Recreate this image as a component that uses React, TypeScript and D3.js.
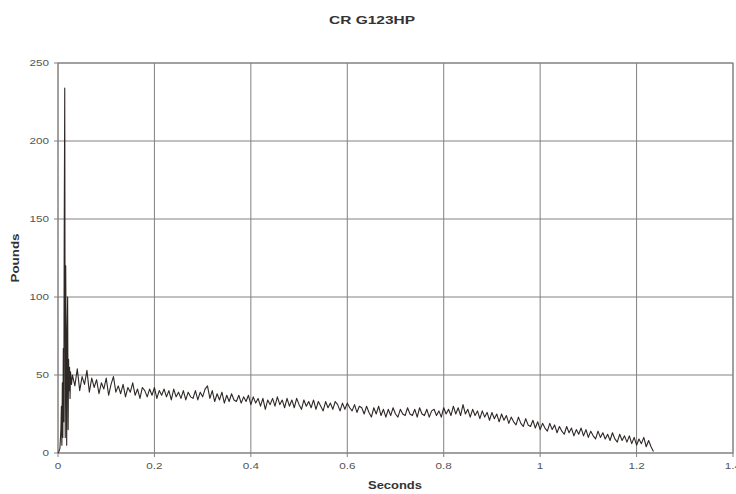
import React from "react";
import * as d3 from "d3";

const title = "CR G123HP";
const xLabel = "Seconds";
const yLabel = "Pounds";
const xTicks = [0, 0.2, 0.4, 0.6, 0.8, 1, 1.2, 1.4];
const yTicks = [0, 50, 100, 150, 200, 250];

// Initial impact segment (seconds, pounds)
const impactTimes = [0, 0.002, 0.004, 0.006, 0.007, 0.008, 0.009, 0.010, 0.011, 0.012, 0.013, 0.014, 0.015, 0.016, 0.017, 0.018, 0.019, 0.020, 0.021, 0.022, 0.023, 0.024, 0.025, 0.026, 0.028];
const impactValues = [0, 1, 3, 15, 30, 5, 45, 10, 67, 20, 150, 234, 10, 120, 60, 5, 80, 100, 15, 60, 40, 55, 35, 52, 44];

// Sustained segment sampled every 0.005 s starting at 0.030 s
const bodyStart = 0.03;
const bodyStep = 0.005;
const bodyValues = [
  50, 43, 54, 40, 49, 44, 53, 39, 48, 42,
  47, 38, 45, 41, 48, 37, 44, 49, 39, 43,
  38, 44, 36, 42, 39, 45, 37, 41, 35, 42,
  40, 36, 41, 37, 42, 35, 40, 37, 41, 36,
  40, 34, 41, 36, 39, 35, 40, 34, 39, 36,
  35, 40, 34, 39, 36, 41, 43, 35, 40, 33,
  38, 34, 39, 32, 37, 33, 38, 34, 33, 37,
  32, 36, 33, 37, 31, 36, 32, 35, 30, 35,
  28, 34, 31, 35, 30, 36, 31, 34, 29, 35,
  30, 34, 29, 35, 31, 28, 34, 30, 33, 29,
  34, 28, 33, 30, 27, 33, 29, 32, 28, 33,
  31, 27, 32, 28, 32, 29, 27, 31, 26, 30,
  29, 25, 30, 26, 23, 29, 25, 30, 24, 28,
  23, 28, 24, 29, 25, 23, 28, 25, 24, 29,
  25, 24, 28, 23, 29, 25, 24, 28, 23, 27,
  28, 24, 27, 23, 29, 25, 28, 24, 30, 25,
  29, 24, 31, 25, 28, 23, 28, 24, 27, 22,
  27, 23, 26, 21, 26, 22, 25, 20, 25, 21,
  24, 19, 23, 20, 18, 23, 19, 17, 22, 18,
  17, 21, 16, 20, 15, 19, 16, 14, 19, 15,
  18, 13, 17, 14, 12, 17, 13, 16, 11, 15,
  12, 16, 11, 15, 10, 14, 11, 9, 14, 10,
  13, 9, 12, 8, 13, 9, 7, 12, 8, 11,
  7, 11, 6, 10, 5, 9, 6, 10, 4, 8,
  4, 1,
];

const W = 736;
const H = 494;
const M = { left: 58, right: 733, top: 63, bottom: 453 };
const FONT = "'Liberation Sans', Arial, sans-serif";
const GRID = "#858080";

function charW(s: string, size: number, stretch: number) {
  let w = 0;
  for (const c of s) w += c === "." ? 0.278 : 0.556;
  return w * size * stretch;
}

export default function App() {
  const x = d3.scaleLinear().domain([0, 1.4]).range([M.left, M.right]);
  const y = d3.scaleLinear().domain([0, 250]).range([M.bottom, M.top]);

  const pts: [number, number][] = impactTimes.map((t, i) => [t, impactValues[i]]);
  bodyValues.forEach((v, i) => pts.push([bodyStart + i * bodyStep, v]));

  const line = d3
    .line<[number, number]>()
    .x((d) => x(d[0]))
    .y((d) => y(d[1]));

  const tickSize = 9;
  const stretch = 1.3;

  return (
    <svg
      width={W}
      height={H}
      style={{ position: "absolute", left: 0, top: 0, background: "#fff" }}
      fontFamily={FONT}
    >
      <rect x={0} y={0} width={W} height={H} fill="#fff" />
      {yTicks.map((t) => (
        <g key={"y" + t}>
          <line x1={M.left - 4} x2={M.right} y1={y(t)} y2={y(t)} stroke={GRID} strokeWidth={1} />
          <text
            x={49}
            y={y(t)}
            dy="0.35em"
            textAnchor="end"
            fontSize={tickSize}
            fill="#555"
            textLength={charW(String(t), tickSize, stretch)}
            lengthAdjust="spacingAndGlyphs"
          >
            {t}
          </text>
        </g>
      ))}
      {xTicks.map((t) => (
        <g key={"x" + t}>
          <line x1={x(t)} x2={x(t)} y1={M.top} y2={M.bottom + 4} stroke={GRID} strokeWidth={1} />
          <text
            x={x(t)}
            y={469}
            textAnchor="middle"
            fontSize={tickSize}
            fill="#555"
            textLength={charW(String(t), tickSize, stretch)}
            lengthAdjust="spacingAndGlyphs"
          >
            {String(t)}
          </text>
        </g>
      ))}
      <rect
        x={M.left}
        y={M.top}
        width={M.right - M.left}
        height={M.bottom - M.top}
        fill="none"
        stroke={GRID}
        strokeWidth={1}
      />
      <path d={line(pts) ?? ""} fill="none" stroke="#2e2826" strokeWidth={1.1} strokeLinejoin="round" />
      <text
        x={372}
        y={24}
        textAnchor="middle"
        fontSize={11}
        fontWeight="bold"
        fill="#333"
        textLength={86}
        lengthAdjust="spacingAndGlyphs"
      >
        {title}
      </text>
      <text
        x={395}
        y={489}
        textAnchor="middle"
        fontSize={10}
        fontWeight="bold"
        fill="#333"
        textLength={54}
        lengthAdjust="spacingAndGlyphs"
      >
        {xLabel}
      </text>
      <text
        transform={`translate(19, 258) rotate(-90)`}
        textAnchor="middle"
        fontSize={10}
        fontWeight="bold"
        fill="#333"
        textLength={49}
        lengthAdjust="spacingAndGlyphs"
      >
        {yLabel}
      </text>
    </svg>
  );
}
